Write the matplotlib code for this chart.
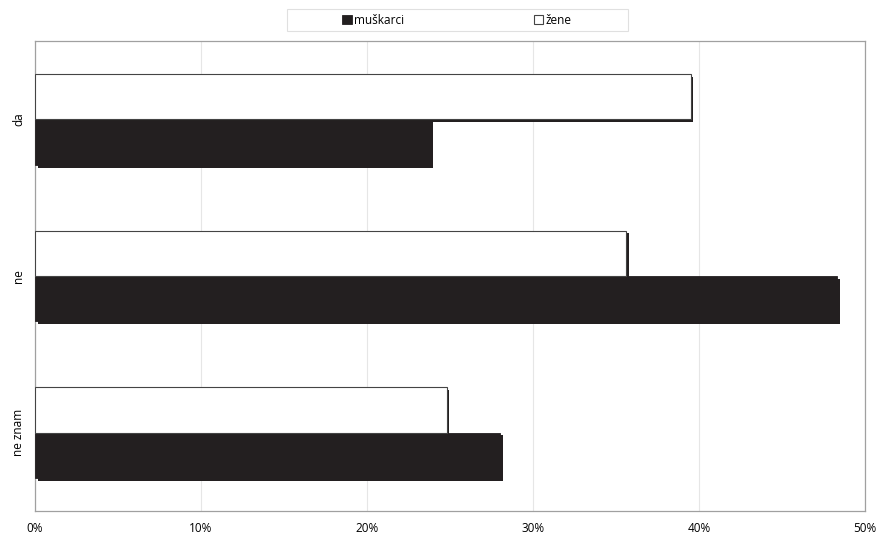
import numpy as np
import matplotlib.pyplot as plt
import matplotlib.patheffects as pe
from matplotlib.patches import Rectangle

# podaci ocitani sa slike
kategorije = ['da', 'ne', 'ne znam']
muskarci = [23.8, 48.3, 28.0]
zene = [39.5, 35.6, 24.8]
xtick_vals = [0, 10, 20, 30, 40, 50]
xtick_labels = ['0%', '10%', '20%', '30%', '40%', '50%']

plt.rcParams['font.family'] = ['Open Sans', 'DejaVu Sans']

tamna = '#231f20'
sjena = [pe.SimplePatchShadow(offset=(2, -2), shadow_rgbFace=tamna, alpha=1), pe.Normal()]

fig = plt.figure(figsize=(8.8, 5.36), dpi=100)
ax = fig.add_axes([35/880, 1-511/536, 830/880, 470/536])

y = np.arange(len(kategorije))
h = 0.29
b1 = ax.barh(y + h/2, muskarci, height=h, color=tamna, edgecolor=tamna, linewidth=0.6, label='muškarci', zorder=3)
b2 = ax.barh(y - h/2, zene, height=h, color='white', edgecolor='#444444', linewidth=0.8, label='žene', zorder=3)
for b in list(b1) + list(b2):
    b.set_path_effects(sjena)

ax.set_xlim(0, 50)
ax.set_ylim(len(kategorije) - 0.5, -0.5)
ax.set_yticks(y)
ax.set_yticklabels(kategorije, rotation=90, va='center', fontsize=8.5)
ax.set_xticks(xtick_vals)
ax.set_xticklabels(xtick_labels, fontsize=8.5)
ax.tick_params(length=0)
ax.tick_params(axis='x', pad=8)
ax.tick_params(axis='y', pad=7)
ax.grid(axis='x', color='#e6e6e6', linewidth=0.8, zorder=0)
for s in ax.spines.values():
    s.set_color('#a0a0a0')
    s.set_linewidth(0.9)

# okvir legende
fig.patches.append(Rectangle((287/880, 1-31/536), 341/880, 22/536, transform=fig.transFigure,
                             facecolor='white', edgecolor='#e0e0e0', linewidth=0.8))
leg = fig.legend(handles=[b1, b2], loc='center', bbox_to_anchor=(457/880, 1-20/536), ncol=2,
                 fontsize=8.5, frameon=False,
                 handlelength=0.8, handleheight=0.8, handletextpad=0.2, columnspacing=11,
                 borderpad=0.35, borderaxespad=0)
for hnd in leg.legend_handles:
    hnd.set_path_effects([])

fig.savefig('out.png', dpi=100)
